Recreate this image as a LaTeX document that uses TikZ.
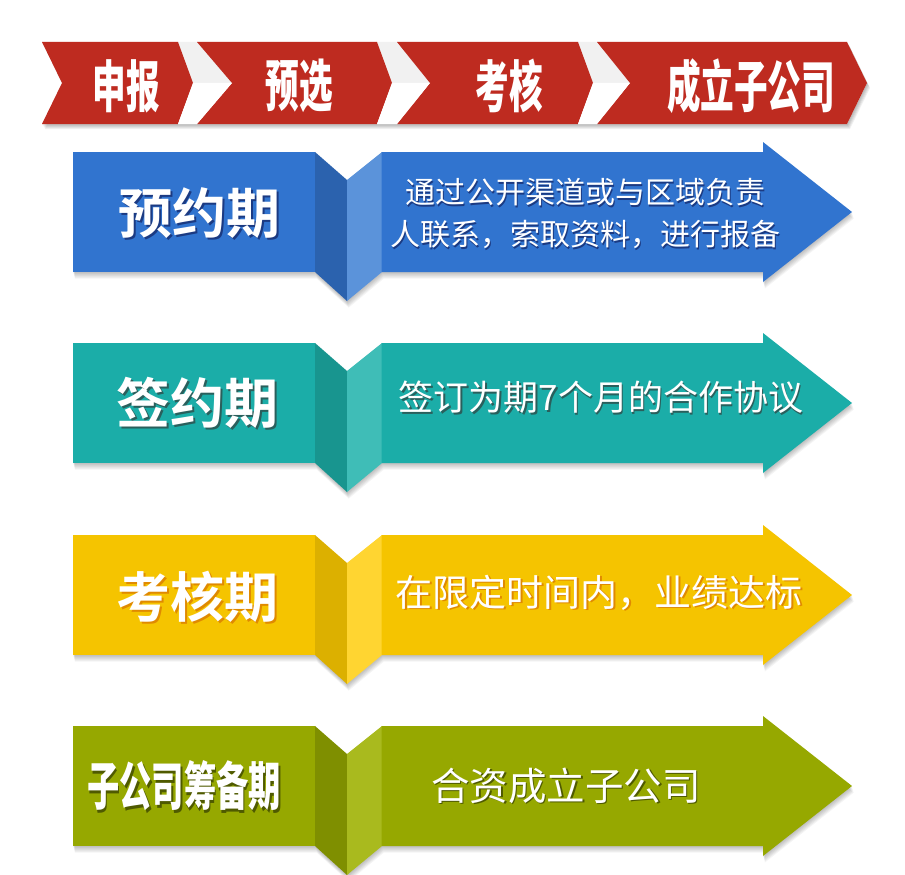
\documentclass[tikz,border=0pt]{standalone}
\usepackage{fontspec}
\newfontfamily\cjk{Noto Sans CJK SC}
\newfontfamily\cjkbold{Noto Sans CJK SC Bold}
\newfontfamily\cjkblack{Noto Sans CJK SC Black}
\definecolor{bannerred}{HTML}{BE2B20}
\definecolor{gapgrey}{HTML}{F1F1F1}
\definecolor{bmain}{HTML}{3174CF}
\definecolor{bdark}{HTML}{2B62AE}
\definecolor{blight}{HTML}{5B93DA}
\definecolor{bshad}{HTML}{1B3A82}
\definecolor{tmain}{HTML}{1BADA8}
\definecolor{tdark}{HTML}{18958F}
\definecolor{tlight}{HTML}{3FBDB7}
\definecolor{tshad}{HTML}{2A5F5C}
\definecolor{ymain}{HTML}{F5C400}
\definecolor{ydark}{HTML}{DCB000}
\definecolor{ylight}{HTML}{FFD531}
\definecolor{yshad}{HTML}{E08A00}
\definecolor{gmain}{HTML}{96A800}
\definecolor{gdark}{HTML}{7F8F00}
\definecolor{glight}{HTML}{A9BA1E}
\definecolor{gshad}{HTML}{4F5A00}
% text with a small drop shadow, in one box
\newcommand\shd[3][1.6pt]{\rlap{\kern#1\raisebox{-#1}{\textcolor{#2}{#3}}}\textcolor{white}{#3}}
\newcommand\foldrow[4]{%
  \pgfmathsetmacro\rtop{#1-60}%
  \pgfmathsetmacro\rbot{#1+60}%
  \foreach \k in {1,...,6}{%
    \fill[black, opacity=0.045, shift={(0.3*\k,1.1*\k)}]
      (73,\rtop) -- (315,\rtop) -- (347,\rtop+28) -- (382,\rtop) -- (763,\rtop)
      -- (763,\rtop-10) -- (852,#1) -- (763,\rbot+10) -- (763,\rbot) -- (382,\rbot)
      -- (347,\rbot+29) -- (315,\rbot) -- (73,\rbot) -- cycle;
  }%
  \fill[#2] (73,\rtop) rectangle (315,\rbot);
  \fill[#3] (315,\rtop) -- (347,\rtop+28) -- (347,\rbot+29) -- (315,\rbot) -- cycle;
  \fill[#4] (347,\rtop+28) -- (382,\rtop) -- (382,\rbot) -- (347,\rbot+29) -- cycle;
  \fill[#2] (381.5,\rtop) -- (763,\rtop) -- (763,\rtop-10) -- (852,#1)
     -- (763,\rbot+10) -- (763,\rbot) -- (381.5,\rbot) -- cycle;
}
\tikzset{
  ban/.style={font=\cjkblack\fontsize{56}{60}\selectfont, text=white, inner sep=0},
  lbl/.style={font=\cjkbold\fontsize{54}{60}\selectfont, inner sep=0},
  lblc/.style={font=\cjkblack\fontsize{52}{60}\selectfont, inner sep=0},
  desc/.style={font=\cjk\fontsize{#1}{42}\selectfont, inner sep=0, align=center},
}
\begin{document}
\begin{tikzpicture}[x=1pt,y=-1pt]
\useasboundingbox (0,0) rectangle (905,875);
\fill[white] (0,0) rectangle (905,875);
% ---------- top banner ----------
\foreach \k in {1,...,5}{%
  \fill[black, opacity=0.06, shift={(0.6*\k,1.0*\k)}]
    (42,42) -- (847,42) -- (867,83) -- (847,124) -- (42,124) -- (62,83) -- cycle;
}
\fill[gapgrey] (42,42) -- (847,42) -- (867,83) -- (847,124) -- (42,124) -- (62,83) -- cycle;
\fill[bannerred] (42,42) -- (178,42) -- (193,83) -- (178,124) -- (42,124) -- (62,83) -- cycle;
\fill[bannerred] (197,42) -- (377,42) -- (392,83) -- (377,124) -- (197,124) -- (232,83) -- cycle;
\fill[bannerred] (397,42) -- (578,42) -- (593,83) -- (578,124) -- (397,124) -- (430,83) -- cycle;
\fill[bannerred] (597,42) -- (847,42) -- (867,83) -- (847,124) -- (597,124) -- (630,83) -- cycle;
\fill[white] (193,83) -- (178,124) -- (197,124) -- (232,83) -- cycle;
\fill[white] (392,83) -- (377,124) -- (397,124) -- (430,83) -- cycle;
\fill[white] (593,83) -- (578,124) -- (597,124) -- (630,83) -- cycle;
\node[ban] (b1) at (126,86) {\scalebox{0.6}[1]{申报}};
\node[ban] (b2) at (299,86) {\scalebox{0.6}[1]{预选}};
\node[ban] (b3) at (509,86) {\scalebox{0.6}[1]{考核}};
\node[ban] (b4) at (751,86) {\scalebox{0.6}[1]{成立子公司}};
% ---------- rows ----------
\foldrow{212}{bmain}{bdark}{blight}
\foldrow{403}{tmain}{tdark}{tlight}
\foldrow{595}{ymain}{ydark}{ylight}
\foldrow{786}{gmain}{gdark}{glight}
% row 1
\node[lbl] (l1) at (199,214) {\shd[2pt]{bshad}{预约期}};
\node[desc=30] (d1) at (585,214.5) {\shd{bshad}{通过公开渠道或与区域负责}\\\shd{bshad}{人联系，索取资料，进行报备}};
% row 2
\node[lbl] (l2) at (197,404) {\shd[2pt]{tshad}{签约期}};
\node[desc=35] (d2) at (601,398.5) {\shd{tshad}{签订为期7个月的合作协议}};
% row 3
\node[lbl] (l3) at (197,598) {\shd[2pt]{yshad}{考核期}};
\node[desc=37] (d3) at (599,593.5) {\shd{yshad}{在限定时间内，业绩达标}};
% row 4
\node[lblc] (l4) at (184,787) {\scalebox{0.62}[1]{\shd[2.5pt]{gshad}{子公司筹备期}}};
\node[desc=38.5] (d4) at (566,786.5) {\shd{gshad}{合资成立子公司}};
\end{tikzpicture}
\end{document}
